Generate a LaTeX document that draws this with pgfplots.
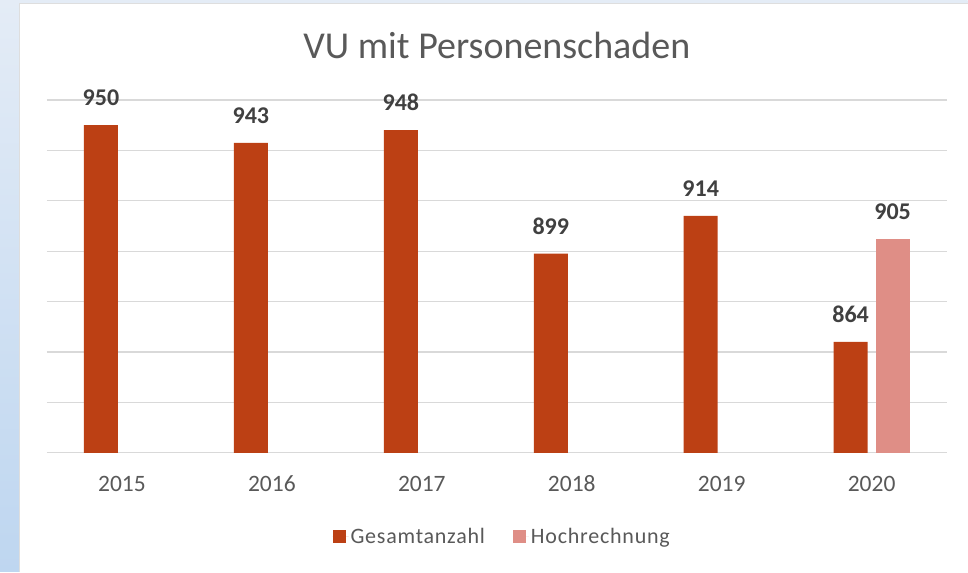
\documentclass[border=0pt]{standalone}
\usepackage{pgfplots}
\pgfplotsset{compat=1.18}
\usepackage{fontspec}
\setmainfont{Carlito}
\newfontfamily\legfont[LetterSpace=3.5]{Carlito}
\definecolor{barA}{HTML}{BC4014}
\definecolor{barB}{HTML}{DF8E86}
\definecolor{txt}{HTML}{595959}
\definecolor{lbl}{HTML}{404040}
\definecolor{gridc}{HTML}{D9D9D9}
\pgfplotstableread{
x y
0 950
1 943
2 948
3 899
4 914
5 864
}\gesamt
\pgfplotstableread{
x y
5 905
}\hoch
\begin{document}
\begin{tikzpicture}
\shade[top color={rgb,255:red,228;green,236;blue,246}, bottom color={rgb,255:red,190;green,214;blue,240}] (-47bp,-119bp) rectangle (921bp,453bp);
\fill[white] (-28bp,-119bp) rectangle (921bp,450bp);
\draw[gridc!80!black!40, line width=0.8bp] (-28bp,-119bp) -- (-28bp,450bp) -- (921bp,450bp);
\node[text=txt, font=\fontsize{38bp}{44bp}\selectfont] at (450bp,408bp) {VU mit Personenschaden};
\begin{axis}[
  at={(0,0)}, anchor=south west,
  scale only axis, width=900bp, height=353bp,
  xmin=-0.5, xmax=5.5, ymin=820, ymax=960,
  ybar, bar width=34bp,
  ytick={820,840,...,960}, yticklabels={},
  ymajorgrids, grid style={gridc, line width=1.2bp},
  xtick={0,1,2,3,4,5}, xticklabels={2015,2016,2017,2018,2019,2020},
  axis line style={draw=none}, tick style={draw=none}, major tick length=0,
  /pgf/number format/assume math mode=true,
  xticklabel style={font=\fontsize{23.5bp}{26bp}\selectfont, text=txt, inner sep=0pt, text height=14.5bp, text depth=0pt, anchor=north, yshift=-24bp},
  nodes near coords,
  nodes near coords style={font=\bfseries\fontsize{24bp}{28bp}\selectfont, text=lbl, anchor=south, inner sep=0pt, yshift=19bp},
  legend style={at={(0.506,-0.238)}, anchor=center, draw=none, fill=none,
    font=\legfont\fontsize{22bp}{26bp}\selectfont, text=txt, legend columns=2,
    /tikz/every even column/.append style={column sep=26bp}},
  legend image code/.code={\fill[#1] (-2bp,-6.5bp) rectangle (11bp,6.5bp); \path (-2bp,0bp) -- (14bp,0bp);},
  clip=false,
]
\addplot[fill=barA, draw=none, bar shift=-21bp] table[x=x,y=y] {\gesamt};
\addlegendentry{Gesamtanzahl}
\addplot[fill=barB, draw=none, bar shift=21bp] table[x=x,y=y] {\hoch};
\addlegendentry{Hochrechnung}
\end{axis}
\end{tikzpicture}
\end{document}
